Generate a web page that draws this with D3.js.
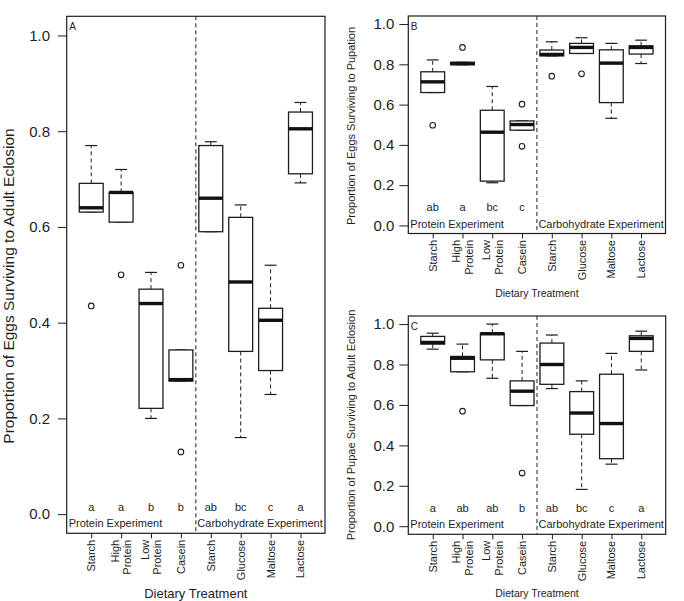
<!DOCTYPE html>
<html>
<head>
<meta charset="utf-8">
<script src="https://cdn.jsdelivr.net/npm/d3@7"></script>
<style>
  html, body { margin: 0; padding: 0; background: #fff; }
  svg { display: block; font-family: "Liberation Sans", Arial, Helvetica, sans-serif; }
</style>
</head>
<body>
<svg id="chart" width="684" height="601"></svg>
<script>
// ---------- DATA ----------
const categories = ["Starch", "High\nProtein", "Low\nProtein", "Casein", "Starch", "Glucose", "Maltose", "Lactose"];
const yTickValues = [0, 0.2, 0.4, 0.6, 0.8, 1.0];
const experimentLabels = ["Protein Experiment", "Carbohydrate Experiment"];

// five-number summaries [lower whisker, Q1, median, Q3, upper whisker]
const eggsToAdult = [
  [0.631, 0.631, 0.640, 0.691, 0.770],
  [0.610, 0.610, 0.672, 0.672, 0.720],
  [0.200, 0.221, 0.440, 0.470, 0.505],
  [0.278, 0.278, 0.281, 0.343, 0.343],
  [0.590, 0.590, 0.660, 0.770, 0.778],
  [0.160, 0.340, 0.485, 0.620, 0.646],
  [0.250, 0.300, 0.405, 0.430, 0.520],
  [0.692, 0.711, 0.805, 0.840, 0.860]
];
const eggsToAdultOutliers = [[0.435], [0.500], [], [0.520, 0.130], [], [], [], []];
const eggsToAdultLetters = ["a", "a", "b", "b", "ab", "bc", "c", "a"];

const eggsToPupa = [
  [0.660, 0.660, 0.713, 0.763, 0.822],
  [0.798, 0.798, 0.804, 0.810, 0.810],
  [0.212, 0.220, 0.463, 0.572, 0.690],
  [0.473, 0.473, 0.501, 0.519, 0.519],
  [0.842, 0.842, 0.849, 0.871, 0.912],
  [0.854, 0.854, 0.884, 0.904, 0.932],
  [0.532, 0.610, 0.806, 0.872, 0.904],
  [0.804, 0.851, 0.884, 0.892, 0.920]
];
const eggsToPupaOutliers = [[0.4975], [0.884], [], [0.602, 0.393], [0.741], [0.753], [], []];
const eggsToPupaLetters = ["ab", "a", "bc", "c", "", "", "", ""];

const pupaeToAdult = [
  [0.876, 0.901, 0.909, 0.939, 0.955],
  [0.764, 0.764, 0.831, 0.840, 0.901],
  [0.732, 0.823, 0.952, 0.955, 1.000],
  [0.597, 0.597, 0.668, 0.719, 0.865],
  [0.681, 0.702, 0.800, 0.906, 0.946],
  [0.182, 0.455, 0.560, 0.666, 0.719],
  [0.307, 0.334, 0.508, 0.752, 0.855],
  [0.773, 0.865, 0.929, 0.942, 0.965]
];
const pupaeToAdultOutliers = [[], [0.569], [], [0.263], [], [], [], []];
const pupaeToAdultLetters = ["a", "ab", "ab", "b", "ab", "bc", "c", "a"];

// ---------- DRAWING ----------
const svg = d3.select("#chart");
const ink = "#1e1e1e";

function drawPanel(cfg) {
  const { left, top, right, bottom } = cfg;
  const g = svg.append("g");
  const n = categories.length;
  const x = d3.scaleLinear().domain([0.5 - 0.04 * n, n + 0.5 + 0.04 * n]).range([left, right]);
  const y = d3.scaleLinear().domain([-0.04, 1.04]).range([bottom, top]);
  const boxW = x(0.8) - x(0);
  const capW = x(0.4) - x(0);

  // y axis
  const ya = g.append("g").attr("transform", `translate(${left},0)`)
    .call(d3.axisLeft(y).tickValues(yTickValues).tickFormat(d3.format(".1f"))
      .tickSize(cfg.yTickLen).tickPadding(cfg.yTickPad));
  ya.select(".domain").remove();
  ya.selectAll(".tick line").attr("stroke", ink);
  ya.selectAll(".tick text").attr("font-size", 15).attr("fill", ink)
    .attr("font-family", "Liberation Sans, Arial, sans-serif");

  // x axis ticks
  const xa = g.append("g").attr("transform", `translate(0,${bottom})`)
    .call(d3.axisBottom(x).tickValues(d3.range(1, n + 1)).tickSize(5).tickFormat(""));
  xa.select(".domain").remove();
  xa.selectAll(".tick line").attr("stroke", ink);

  // x tick labels, rotated, possibly two lines
  categories.forEach((c, i) => {
    const lines = c.split("\n");
    const t = g.append("text")
      .attr("transform", `translate(${x(i + 1)},${bottom + 6.5}) rotate(-90)`)
      .attr("text-anchor", "end").attr("font-size", 11).attr("fill", ink);
    const sp = 12.6;
    lines.forEach((ln, k) => {
      const off = (k - (lines.length - 1) / 2) * sp + 4;
      t.append("tspan").attr("x", 0).attr("y", off).text(ln);
    });
  });

  // divider
  g.append("line").attr("x1", x(4.5)).attr("x2", x(4.5)).attr("y1", top).attr("y2", bottom)
    .attr("stroke", ink).attr("stroke-width", 1).attr("stroke-dasharray", "4,3");

  // boxes
  cfg.stats.forEach((s, i) => {
    const cx = x(i + 1);
    const [lo, q1, med, q3, hi] = s;
    const bg = g.append("g");
    // whiskers
    if (hi > q3) bg.append("line").attr("x1", cx).attr("x2", cx).attr("y1", y(q3)).attr("y2", y(hi))
      .attr("stroke", ink).attr("stroke-dasharray", "4,3");
    if (lo < q1) bg.append("line").attr("x1", cx).attr("x2", cx).attr("y1", y(q1)).attr("y2", y(lo))
      .attr("stroke", ink).attr("stroke-dasharray", "4,3");
    // staples
    [lo, hi].forEach(v => bg.append("line").attr("x1", cx - capW / 2).attr("x2", cx + capW / 2)
      .attr("y1", y(v)).attr("y2", y(v)).attr("stroke", ink).attr("stroke-width", 1.2));
    // box
    bg.append("rect").attr("x", cx - boxW / 2).attr("width", boxW)
      .attr("y", y(q3)).attr("height", Math.max(0.5, y(q1) - y(q3)))
      .attr("fill", "#fff").attr("stroke", ink).attr("stroke-width", 1.3);
    // median
    bg.append("line").attr("x1", cx - boxW / 2).attr("x2", cx + boxW / 2)
      .attr("y1", y(med)).attr("y2", y(med)).attr("stroke", "#111").attr("stroke-width", 3.4);
    // outliers
    cfg.outliers[i].forEach(v => bg.append("circle").attr("cx", cx).attr("cy", y(v)).attr("r", 2.8)
      .attr("fill", "none").attr("stroke", ink).attr("stroke-width", 1.1));
    // letters
    g.append("text").attr("x", cx).attr("y", bottom - 22.5).attr("text-anchor", "middle")
      .attr("font-size", 11).attr("fill", ink).text(cfg.letters[i]);
  });

  // experiment labels
  g.append("text").attr("x", left + 2).attr("y", bottom - 6).attr("font-size", 11).attr("fill", ink)
    .text(experimentLabels[0]);
  g.append("text").attr("x", x(4.5) + 1.5).attr("y", bottom - 6).attr("font-size", 11).attr("fill", ink)
    .text(experimentLabels[1]);

  // frame
  g.append("rect").attr("x", left).attr("y", top).attr("width", right - left).attr("height", bottom - top)
    .attr("fill", "none").attr("stroke", ink).attr("stroke-width", 1.2);

  // panel letter
  g.append("text").attr("x", left + 2.5).attr("y", top + 13.5).attr("font-size", 10).attr("fill", ink)
    .text(cfg.panel);

  // axis titles
  g.append("text").attr("x", (left + right) / 2).attr("y", cfg.xTitleY).attr("text-anchor", "middle")
    .attr("font-size", cfg.xTitleSize).attr("fill", ink).text("Dietary Treatment");
  g.append("text").attr("transform", `translate(${cfg.yTitleX},${cfg.yTitleCY}) rotate(-90)`)
    .attr("text-anchor", "middle").attr("font-size", cfg.yTitleSize).attr("fill", ink).text(cfg.yTitle);
}

drawPanel({
  panel: "A", left: 66.7, top: 16.3, right: 325, bottom: 533.3,
  stats: eggsToAdult, outliers: eggsToAdultOutliers, letters: eggsToAdultLetters,
  yTickLen: 8.7, yTickPad: 8,
  xTitleY: 598, xTitleSize: 13,
  yTitle: "Proportion of Eggs Surviving to Adult Eclosion", yTitleX: 14, yTitleCY: 286, yTitleSize: 15.5
});
drawPanel({
  panel: "B", left: 408.3, top: 16, right: 665.5, bottom: 233.5,
  stats: eggsToPupa, outliers: eggsToPupaOutliers, letters: eggsToPupaLetters,
  yTickLen: 9, yTickPad: 5,
  xTitleY: 297, xTitleSize: 10.5,
  yTitle: "Proportion of Eggs Surviving to Pupation", yTitleX: 355, yTitleCY: 126, yTitleSize: 11
});
drawPanel({
  panel: "C", left: 408.3, top: 316, right: 665.7, bottom: 534.3,
  stats: pupaeToAdult, outliers: pupaeToAdultOutliers, letters: pupaeToAdultLetters,
  yTickLen: 9, yTickPad: 5,
  xTitleY: 597, xTitleSize: 10.5,
  yTitle: "Proportion of Pupae Surviving to Adult Eclosion", yTitleX: 355, yTitleCY: 425, yTitleSize: 11
});
</script>
</body>
</html>
